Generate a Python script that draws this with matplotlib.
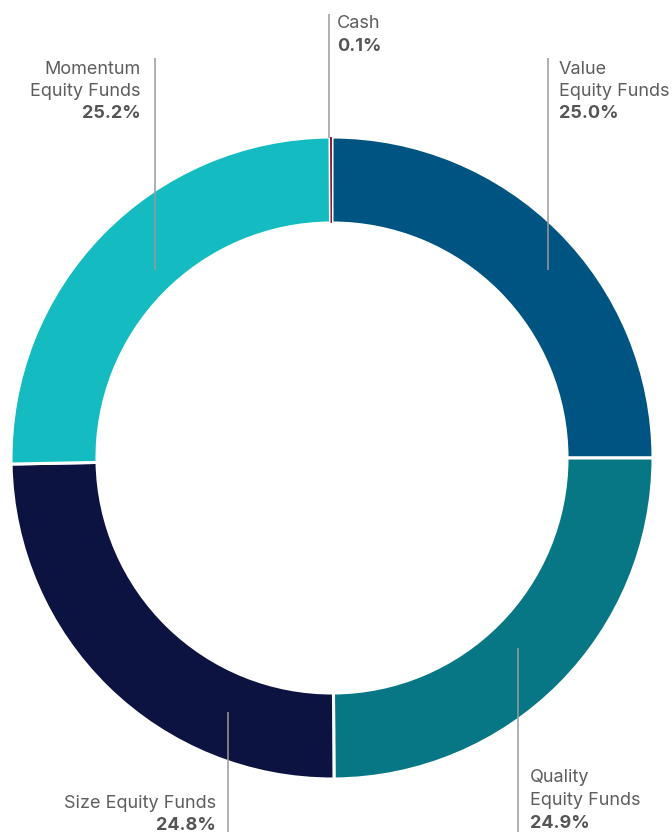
import matplotlib
matplotlib.use("Agg")
import matplotlib.pyplot as plt

categories = ["Value\nEquity Funds", "Quality\nEquity Funds", "Size Equity Funds",
              "Momentum\nEquity Funds", "Cash"]
values = [25.0, 24.9, 24.8, 25.2, 0.1]
colors = ["#005482", "#077786", "#0d1340", "#14bcc1", "#8a1c40"]

W, H = 672, 832
fig = plt.figure(figsize=(W / 100, H / 100), dpi=100)
ax = fig.add_axes([0, 0, 1, 1])

cx, cy = 332, H - 458
R, width = 321, 86
wedges, _ = ax.pie(values, radius=R, center=(cx, cy), startangle=90, counterclock=False,
                   colors=colors, wedgeprops=dict(width=width, edgecolor="white", linewidth=2.2))
# keep the tiny cash slice visible above the white separators
wedges[-1].set_linewidth(0)
wedges[-1].set_zorder(5)
ax.set_xlim(0, W)
ax.set_ylim(0, H)
ax.set_aspect("equal")
ax.axis("off")

plt.rcParams["font.family"] = ["Inter", "DejaVu Sans"]
tc = "#5e5e5e"
bc = "#555555"
lc = "#9a9a9a"
fs = 13

# leader lines (pixel coords: x, y_top, y_bottom)
leaders = [(548, 58, 270), (518, 648, 832), (228, 712, 832), (155, 58, 270), (329, 14, 138)]
for x, y0, y1 in leaders:
    ax.plot([x, x], [H - y0, H - y1], color=lc, lw=1.1, solid_capstyle="butt", zorder=6)

# label anchors (x, y of first line center, alignment)
anchors = [(559, 69, "left"), (530, 778, "left"), (216, 803, "right"),
           (141, 69, "right"), (337, 24, "left")]
step = 22.5
for cat, val, (x, y, ha) in zip(categories, values, anchors):
    lines = cat.split("\n")
    for i, ln in enumerate(lines):
        ax.text(x, H - (y + i * step), ln, ha=ha, va="center", fontsize=fs,
                color=tc, fontweight="normal")
    ax.text(x, H - (y + len(lines) * step), f"{val:.1f}%", ha=ha, va="center",
            fontsize=fs, color=bc, fontweight="bold")

fig.savefig("out.png", dpi=100)
